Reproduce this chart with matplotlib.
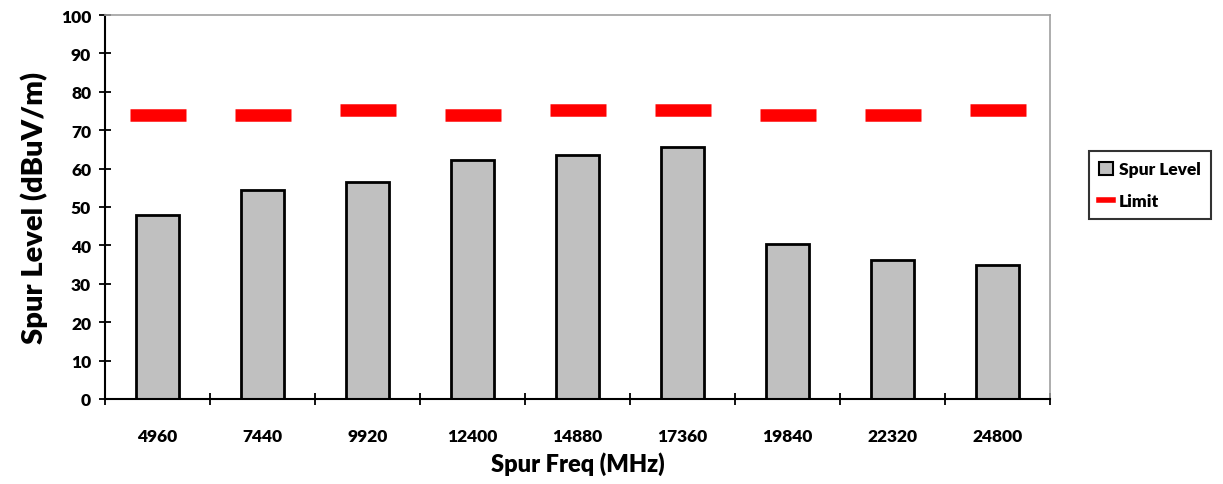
import matplotlib
matplotlib.use("Agg")
import matplotlib.pyplot as plt
import numpy as np
from matplotlib.patches import Patch
from matplotlib.lines import Line2D

freqs = ["4960", "7440", "9920", "12400", "14880", "17360", "19840", "22320", "24800"]
spur_level = [48.0, 54.5, 56.6, 62.3, 63.5, 65.5, 40.4, 36.3, 35.0]
limit = [73.9, 73.9, 75.2, 73.9, 75.2, 75.2, 73.9, 73.9, 75.2]

W = 'heavy'
plt.rcParams['font.family'] = ['Lato', 'DejaVu Sans']
plt.rcParams['font.weight'] = W

fig = plt.figure(figsize=(12.23, 4.85), dpi=100)
ax = fig.add_axes([0.0859, 0.1753, 0.7727, 0.7917])

x = np.arange(len(freqs))
ax.bar(x, spur_level, width=0.41, color='#c0c0c0', edgecolor='black', linewidth=2, zorder=2)
ax.plot(x, limit, ls='none', marker='_', ms=40, mew=9, color='red', zorder=3)

ax.set_xlim(-0.5, len(freqs) - 0.5)
ax.set_ylim(0, 100)
ax.set_yticks(np.arange(0, 101, 10))
ax.set_xticks(x)
ax.set_xticklabels(freqs)
ax.set_xticks(np.arange(-0.5, len(freqs), 1.0), minor=True)
ax.tick_params(axis='x', which='major', length=0, pad=21, labelsize=12.5)
ax.tick_params(axis='x', which='minor', direction='inout', length=8, width=1.3)
ax.tick_params(axis='y', direction='inout', length=8, width=1.3, labelsize=12.5, pad=6)

for lab in ax.get_xticklabels() + ax.get_yticklabels():
    lab.set_fontweight(W)

ax.spines['left'].set_linewidth(1.5)
ax.spines['bottom'].set_linewidth(1.5)
ax.spines['top'].set_color('#a0a0a0')
ax.spines['right'].set_color('#a0a0a0')
ax.spines['top'].set_linewidth(1.2)
ax.spines['right'].set_linewidth(1.2)

ax.set_ylabel("Spur Level (dBuV/m)", fontsize=21, fontweight=W, labelpad=9)
ax.set_xlabel("Spur Freq (MHz)", fontsize=17, fontweight=W, labelpad=5)

handles = [Patch(facecolor='#c0c0c0', edgecolor='black', linewidth=1.5, label='Spur Level'),
           Line2D([0], [0], color='red', lw=4, label='Limit')]
leg = fig.legend(handles=handles, loc='upper left', bbox_to_anchor=(1089/1223, 1 - 152/485),
                 frameon=True, fancybox=False, edgecolor='black', fontsize=12.5,
                 handlelength=0.8, handleheight=0.8, handletextpad=0.3, borderpad=0.6,
                 labelspacing=0.9, borderaxespad=0)
leg.get_frame().set_linewidth(1.5)
for t in leg.get_texts():
    t.set_fontweight(W)

fig.savefig("out.png", dpi=100)
